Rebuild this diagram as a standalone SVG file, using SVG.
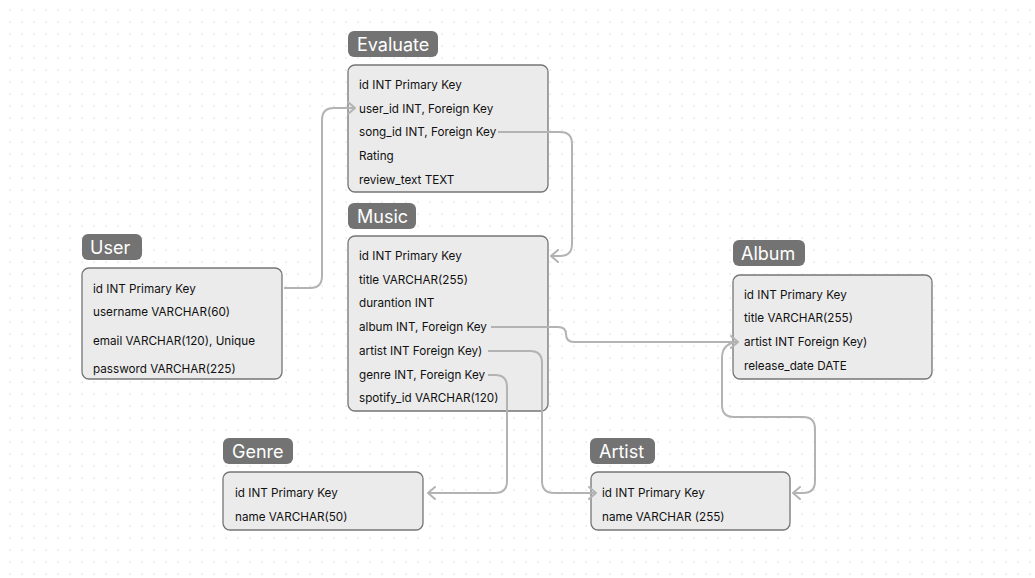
<svg xmlns="http://www.w3.org/2000/svg" width="1035" height="578" viewBox="0 0 1035 578">
<defs>
<pattern id="dots" patternUnits="userSpaceOnUse" x="4" y="4" width="12" height="12">
<rect x="5.5" y="5.5" width="1.2" height="1.2" fill="#d6d6d6"/>
</pattern>
<marker id="arr" markerUnits="userSpaceOnUse" markerWidth="16" markerHeight="16" viewBox="-10 -8 12 16" refX="0" refY="0" orient="auto">
<path d="M-7,-6 L0,0 L-7,6" fill="none" stroke="#b3b3b3" stroke-width="2" stroke-linecap="round" stroke-linejoin="round"/>
</marker>
<style>
.tbl{fill:#ebebeb;stroke:#757575;stroke-width:1.3}
.lbl{fill:#737373}
.lt{font-family:Inter,"Liberation Sans",sans-serif;font-size:18px;fill:#ffffff}
.rt{font-family:Inter,"Liberation Sans",sans-serif;font-size:11.7px;fill:#111111}
.con{fill:none;stroke:#b3b3b3;stroke-width:2}
</style>
</defs>
<rect width="1035" height="578" fill="#ffffff"/>
<rect width="1035" height="578" fill="url(#dots)"/>

<g id="evaluate">
<rect class="lbl" x="348" y="31" width="90" height="26" rx="6"/>
<text class="lt" x="357" y="50.5">Evaluate</text>
<rect class="tbl" x="348" y="65" width="200" height="127" rx="7"/>
<text class="rt" x="359" y="89">id INT Primary Key</text>
<text class="rt" x="359" y="113">user_id INT, Foreign Key</text>
<text class="rt" x="359" y="136">song_id INT, Foreign Key</text>
<text class="rt" x="359" y="160">Rating</text>
<text class="rt" x="359" y="184">review_text TEXT</text>
</g>

<g id="music">
<rect class="lbl" x="348" y="203" width="68" height="26" rx="6"/>
<text class="lt" x="357" y="222.5">Music</text>
<rect class="tbl" x="348" y="236" width="200" height="175" rx="7"/>
<text class="rt" x="359" y="260">id INT Primary Key</text>
<text class="rt" x="359" y="284">title VARCHAR(255)</text>
<text class="rt" x="359" y="307">durantion INT</text>
<text class="rt" x="359" y="331">album INT, Foreign Key</text>
<text class="rt" x="359" y="355">artist INT Foreign Key)</text>
<text class="rt" x="359" y="379">genre INT, Foreign Key</text>
<text class="rt" x="359" y="402">spotify_id VARCHAR(120)</text>
</g>

<g id="user">
<rect class="lbl" x="82" y="234" width="60" height="26" rx="6"/>
<text class="lt" x="90" y="253.5">User</text>
<rect class="tbl" x="82" y="268" width="200" height="111" rx="7"/>
<text class="rt" x="93" y="293">id INT Primary Key</text>
<text class="rt" x="93" y="316">username VARCHAR(60)</text>
<text class="rt" x="93" y="345">email VARCHAR(120), Unique</text>
<text class="rt" x="93" y="373">password VARCHAR(225)</text>
</g>

<g id="album">
<rect class="lbl" x="733" y="240" width="72" height="26" rx="6"/>
<text class="lt" x="741" y="259.5">Album</text>
<rect class="tbl" x="733" y="275" width="199" height="104" rx="7"/>
<text class="rt" x="744" y="299">id INT Primary Key</text>
<text class="rt" x="744" y="322">title VARCHAR(255)</text>
<text class="rt" x="744" y="346">artist INT Foreign Key)</text>
<text class="rt" x="744" y="370">release_date DATE</text>
</g>

<g id="genre">
<rect class="lbl" x="223" y="438" width="70" height="26" rx="6"/>
<text class="lt" x="232" y="457.5">Genre</text>
<rect class="tbl" x="223" y="472" width="200" height="58" rx="7"/>
<text class="rt" x="235" y="497">id INT Primary Key</text>
<text class="rt" x="235" y="521">name VARCHAR(50)</text>
</g>

<g id="artist">
<rect class="lbl" x="590" y="438" width="65" height="26" rx="6"/>
<text class="lt" x="599" y="457.5">Artist</text>
<rect class="tbl" x="591" y="472" width="199" height="58" rx="7"/>
<text class="rt" x="602" y="497">id INT Primary Key</text>
<text class="rt" x="602" y="521">name VARCHAR (255)</text>
</g>

<g id="connectors">
<path class="con" d="M284,288 H310 Q322,288 322,276 V120 Q322,108 334,108 H355" marker-end="url(#arr)"/>
<path class="con" d="M498,132 H560 Q572,132 572,144 V244 Q572,256 560,256 H551" marker-end="url(#arr)"/>
<path class="con" d="M491,327 H558 Q566,327 566,334 Q566,342 574,342 H738" marker-end="url(#arr)"/>
<path class="con" d="M736,342 Q722,344 722,358 V405 Q722,417 734,417 H803 Q815,417 815,429 V481 Q815,493 803,493 H793" marker-end="url(#arr)"/>
<path class="con" d="M488,351 H530 Q542,351 542,363 V481 Q542,493 554,493 H596" marker-end="url(#arr)"/>
<path class="con" d="M488,375 H495 Q507,375 507,387 V481 Q507,493 495,493 H428" marker-end="url(#arr)"/>
</g>
</svg>
